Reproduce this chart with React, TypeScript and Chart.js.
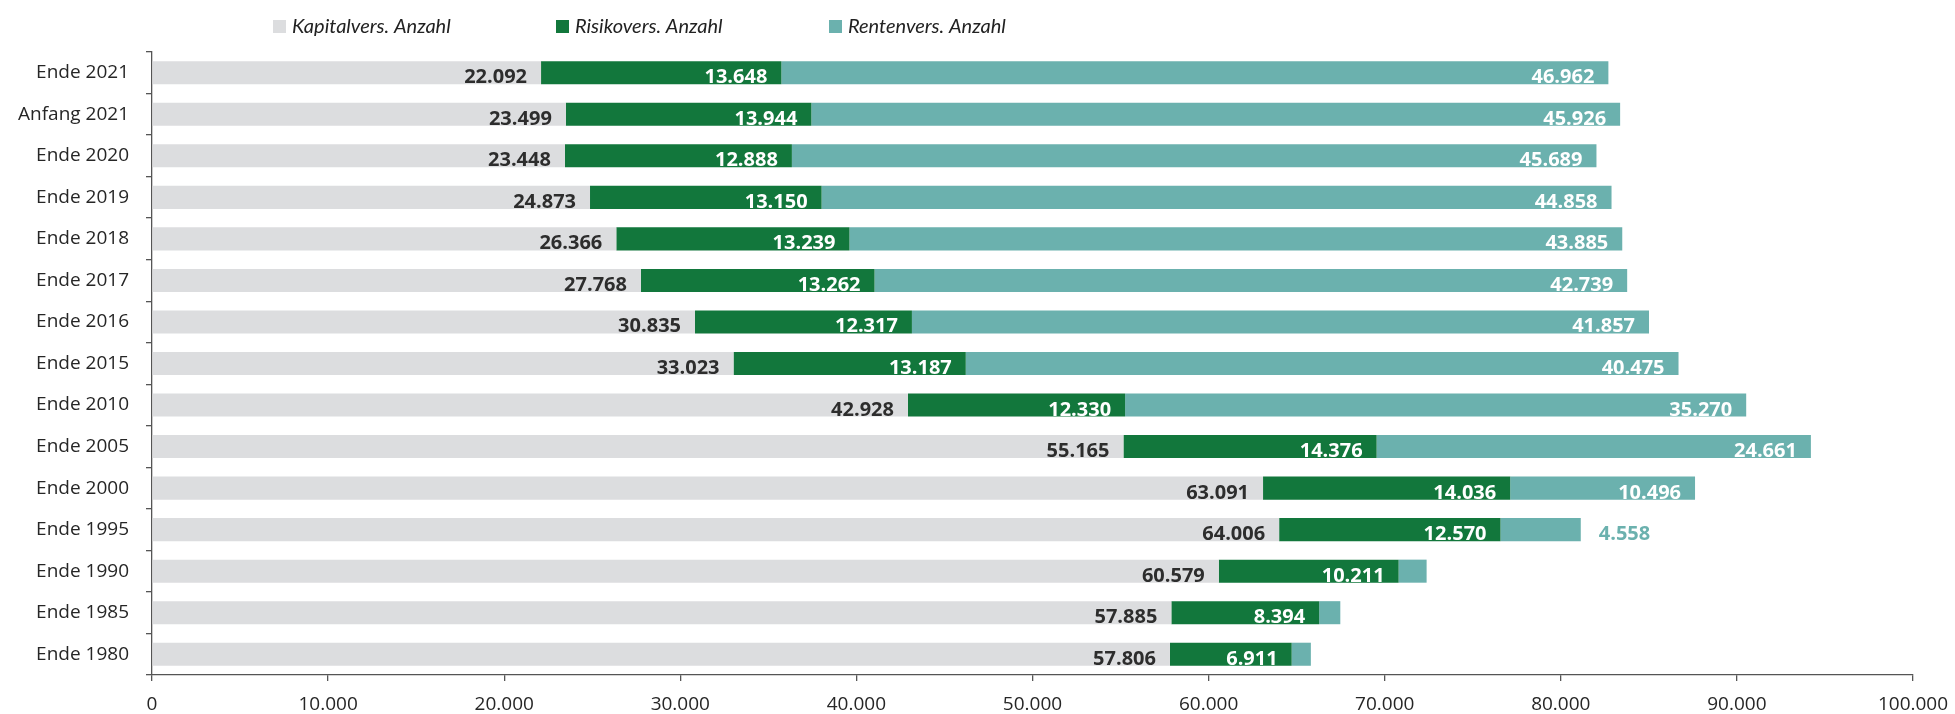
import React, { useEffect, useRef } from "react";
import { Chart, registerables } from "chart.js";

Chart.register(...registerables);

const categories = [
  "Ende 2021", "Anfang 2021", "Ende 2020", "Ende 2019", "Ende 2018",
  "Ende 2017", "Ende 2016", "Ende 2015", "Ende 2010", "Ende 2005",
  "Ende 2000", "Ende 1995", "Ende 1990", "Ende 1985", "Ende 1980",
];
const kapitalValues = [22092, 23499, 23448, 24873, 26366, 27768, 30835, 33023, 42928, 55165, 63091, 64006, 60579, 57885, 57806];
const risikoValues = [13648, 13944, 12888, 13150, 13239, 13262, 12317, 13187, 12330, 14376, 14036, 12570, 10211, 8394, 6911];
const rentenValues = [46962, 45926, 45689, 44858, 43885, 42739, 41857, 40475, 35270, 24661, 10496, 4558, 1590, 1200, 1090];
const seriesNames = ["Kapitalvers. Anzahl", "Risikovers. Anzahl", "Rentenvers. Anzahl"];
const xTicks = [0, 10000, 20000, 30000, 40000, 50000, 60000, 70000, 80000, 90000, 100000];

const COLORS = ["#dcdddf", "#12773c", "#6bb1ae"];
const TEXT = "#262626";
const AXIS = "#555555";
const FONT = "'Open Sans', 'Noto Sans', sans-serif";

function fmt(v: number): string {
  return Math.round(v).toString().replace(/\B(?=(\d{3})+(?!\d))/g, ".");
}

const labelPlugin = {
  id: "barLabels",
  afterDatasetsDraw(chart: any) {
    const ctx = chart.ctx;
    ctx.save();
    ctx.font = `bold 20px ${FONT}`;
    ctx.textBaseline = "alphabetic";
    chart.data.datasets.forEach((ds: any, di: number) => {
      const meta = chart.getDatasetMeta(di);
      meta.data.forEach((bar: any, i: number) => {
        const v = ds.data[i];
        const p = bar.getProps(["x", "y", "base", "height"], true);
        const yb = p.y + p.height / 2 - 1;
        if (di === 2) {
          if (v < 2000) return;
          if (v < 8000) {
            ctx.fillStyle = COLORS[2];
            ctx.textAlign = "left";
            ctx.fillText(fmt(v), p.x + 18, yb);
            return;
          }
        }
        ctx.fillStyle = di === 0 ? "#2d2d2d" : "#ffffff";
        ctx.textAlign = "right";
        ctx.fillText(fmt(v), p.x - 14, yb);
      });
    });
    ctx.restore();
  },
};

const legendPlugin = {
  id: "customLegend",
  afterDraw(chart: any) {
    const ctx = chart.ctx;
    const xs = [273, 556, 829];
    const yc = 26;
    ctx.save();
    ctx.font = `italic 20px Lato, ${FONT}`;
    ctx.textBaseline = "middle";
    ctx.textAlign = "left";
    seriesNames.forEach((name, i) => {
      ctx.fillStyle = COLORS[i];
      ctx.fillRect(xs[i], yc - 6, 13, 13);
      ctx.fillStyle = "#222222";
      ctx.fillText(name, xs[i] + 19, yc + 1);
    });
    ctx.restore();
  },
};

export default function App() {
  const ref = useRef<HTMLCanvasElement | null>(null);

  useEffect(() => {
    if (!ref.current) return;
    const chart = new Chart(ref.current, {
      type: "bar",
      data: {
        labels: categories,
        datasets: [
          { label: seriesNames[0], data: kapitalValues, backgroundColor: COLORS[0] },
          { label: seriesNames[1], data: risikoValues, backgroundColor: COLORS[1] },
          { label: seriesNames[2], data: rentenValues, backgroundColor: COLORS[2] },
        ],
      },
      options: {
        indexAxis: "y",
        animation: false,
        responsive: true,
        maintainAspectRatio: false,
        datasets: { bar: { barPercentage: 0.555, categoryPercentage: 1 } },
        layout: { padding: { top: 52, right: 42, left: 0, bottom: 0 } },
        plugins: { legend: { display: false }, tooltip: { enabled: false } },
        scales: {
          x: {
            stacked: true,
            min: 0,
            max: 100000,
            afterBuildTicks: (scale: any) => {
              scale.ticks = xTicks.map((v) => ({ value: v }));
            },
            afterFit: (scale: any) => {
              scale.height = 39;
              scale.paddingLeft = 0;
              scale.paddingRight = 0;
            },
            border: { display: true, color: AXIS, width: 1.3 },
            grid: { drawOnChartArea: false, drawTicks: true, tickLength: 6, color: AXIS, lineWidth: 1.3 },
            ticks: {
              color: TEXT,
              font: { family: FONT, size: 19 },
              padding: 12,
              maxRotation: 0,
              autoSkip: false,
              callback: (v: any) => fmt(Number(v)),
            },
          },
          y: {
            stacked: true,
            afterFit: (scale: any) => {
              scale.width = 152;
            },
            border: { display: true, color: AXIS, width: 1.3 },
            grid: { drawOnChartArea: false, drawTicks: true, tickLength: 6, color: AXIS, lineWidth: 1.3, offset: true },
            ticks: {
              color: TEXT,
              font: { family: FONT, size: 19 },
              padding: 17,
              autoSkip: false,
            },
          },
        },
      } as any,
      plugins: [labelPlugin, legendPlugin],
    });
    let alive = true;
    if ((document as any).fonts && (document as any).fonts.ready) {
      (document as any).fonts.ready.then(() => {
        if (alive) chart.update();
      });
    }
    return () => {
      alive = false;
      chart.destroy();
    };
  }, []);

  return (
    <div style={{ position: "fixed", left: 0, top: 0, width: 1955, height: 714, background: "#ffffff" }}>
      <canvas ref={ref} />
    </div>
  );
}
